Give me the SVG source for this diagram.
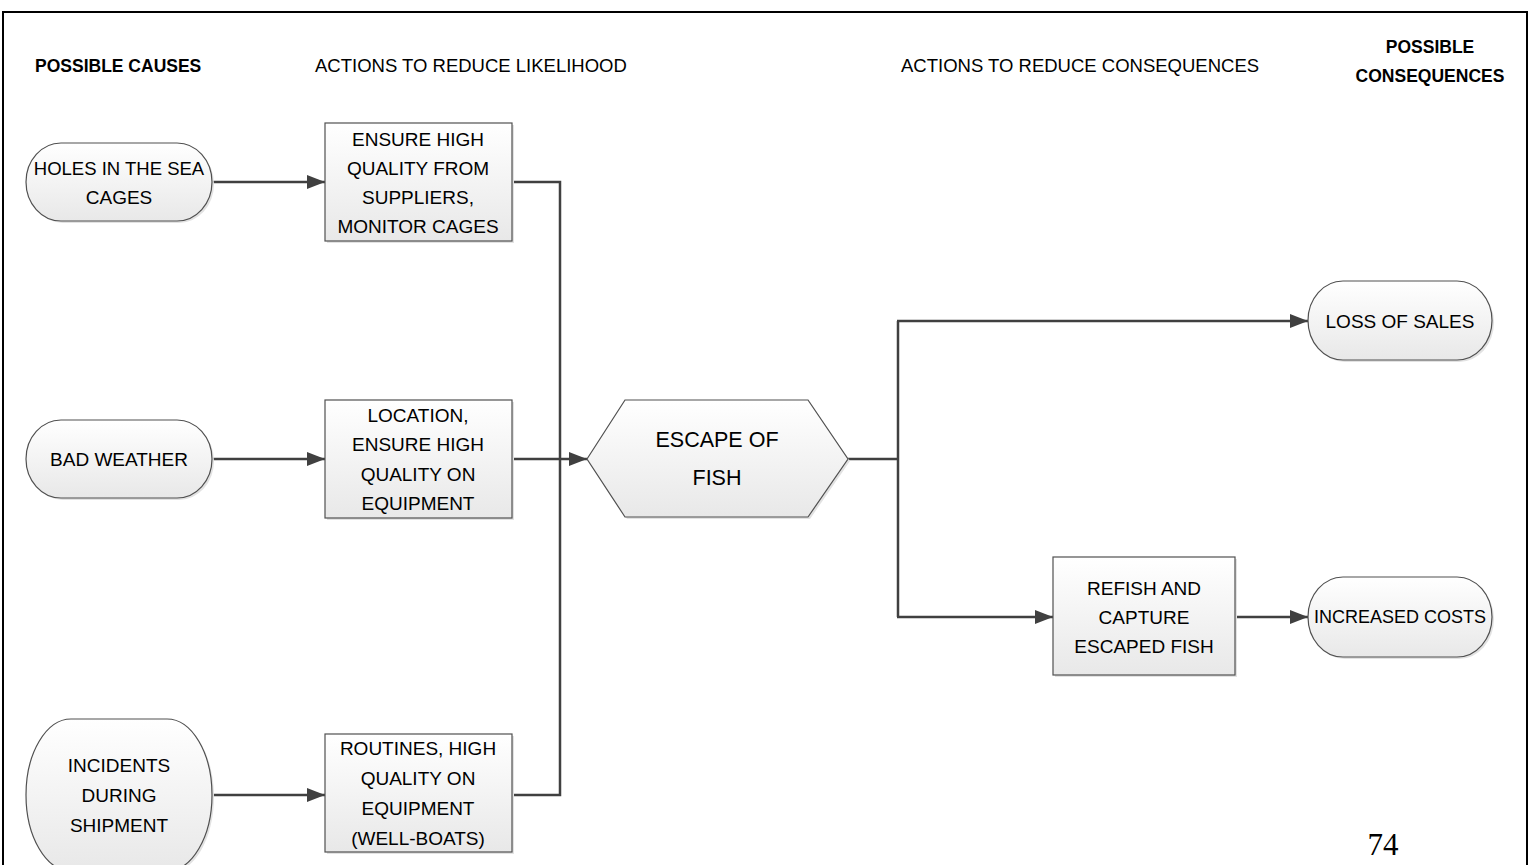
<svg xmlns="http://www.w3.org/2000/svg" width="1533" height="865" viewBox="0 0 1533 865">
<style>
  .t { font-family: "Liberation Sans", Arial, sans-serif; font-size: 19px; fill: #000; text-anchor: middle; }
  .h { font-family: "Liberation Sans", Arial, sans-serif; font-size: 18.5px; fill: #000; }
  .hb { font-family: "Liberation Sans", Arial, sans-serif; font-size: 17.5px; font-weight: bold; fill: #000; }
  .big { font-family: "Liberation Sans", Arial, sans-serif; font-size: 21.5px; fill: #000; text-anchor: middle; }
  .shape { fill: url(#g); stroke: #505050; stroke-width: 1.2; }
  .shadow { fill: #e2e2e2; }
  .conn { fill: none; stroke: #404040; stroke-width: 2.5; }
  .arr { marker-end: url(#ah); }
</style>
<defs>
  <linearGradient id="g" x1="0" y1="0" x2="0" y2="1">
    <stop offset="0" stop-color="#ffffff"/>
    <stop offset="1" stop-color="#e8e8e8"/>
  </linearGradient>
  <marker id="ah" markerUnits="userSpaceOnUse" markerWidth="18" markerHeight="16" refX="18" refY="8" orient="auto">
    <path d="M0,1 L18,8 L0,15 z" fill="#404040"/>
  </marker>
</defs>
<rect x="0" y="0" width="1533" height="865" fill="#fff"/>
<path d="M3,880 V12 H1527 V880" fill="none" stroke="#000" stroke-width="2"/>

<g id="headers">
  <text class="hb" x="35" y="72">POSSIBLE CAUSES</text>
  <text class="h" x="315" y="72">ACTIONS TO REDUCE LIKELIHOOD</text>
  <text class="h" x="901" y="72">ACTIONS TO REDUCE CONSEQUENCES</text>
  <text class="hb" x="1430" y="53" text-anchor="middle">POSSIBLE</text>
  <text class="hb" x="1430" y="82" text-anchor="middle">CONSEQUENCES</text>
</g>

<g id="connectors">
  <line class="conn arr" x1="212" y1="182" x2="325" y2="182"/>
  <line class="conn arr" x1="212" y1="459" x2="325" y2="459"/>
  <line class="conn arr" x1="212" y1="795" x2="325" y2="795"/>
  <polyline class="conn" points="512,182 560,182 560,795 512,795"/>
  <line class="conn arr" x1="512" y1="459" x2="587" y2="459"/>
  <line class="conn" x1="848" y1="459" x2="898" y2="459"/>
  <line class="conn" x1="898" y1="321" x2="898" y2="617"/>
  <line class="conn arr" x1="897" y1="321" x2="1308" y2="321"/>
  <line class="conn arr" x1="897" y1="617" x2="1053" y2="617"/>
  <line class="conn arr" x1="1235" y1="617" x2="1308" y2="617"/>
</g>

<g id="holes">
  <rect class="shadow" x="28" y="145" width="186" height="78" rx="35" ry="39"/>
  <rect class="shape" x="26" y="143" width="186" height="78" rx="35" ry="39"/>
  <text class="t" x="119" y="175" style="font-size:18.5px">HOLES IN THE SEA</text>
  <text class="t" x="119" y="204">CAGES</text>
</g>

<g id="bad-weather">
  <rect class="shadow" x="28" y="422" width="186" height="78" rx="35" ry="39"/>
  <rect class="shape" x="26" y="420" width="186" height="78" rx="35" ry="39"/>
  <text class="t" x="119" y="466">BAD WEATHER</text>
</g>

<g id="incidents">
  <rect class="shadow" x="28" y="721" width="186" height="152" rx="45" ry="76"/>
  <rect class="shape" x="26" y="719" width="186" height="152" rx="45" ry="76"/>
  <text class="t" x="119" y="772">INCIDENTS</text>
  <text class="t" x="119" y="802">DURING</text>
  <text class="t" x="119" y="832">SHIPMENT</text>
</g>

<g id="action-1">
  <rect class="shadow" x="327" y="125" width="187" height="118"/>
  <rect class="shape" x="325" y="123" width="187" height="118"/>
  <text class="t" x="418" y="146">ENSURE HIGH</text>
  <text class="t" x="418" y="175">QUALITY FROM</text>
  <text class="t" x="418" y="204">SUPPLIERS,</text>
  <text class="t" x="418" y="233">MONITOR CAGES</text>
</g>

<g id="action-2">
  <rect class="shadow" x="327" y="402" width="187" height="118"/>
  <rect class="shape" x="325" y="400" width="187" height="118"/>
  <text class="t" x="418" y="422">LOCATION,</text>
  <text class="t" x="418" y="451">ENSURE HIGH</text>
  <text class="t" x="418" y="481">QUALITY ON</text>
  <text class="t" x="418" y="510">EQUIPMENT</text>
</g>

<g id="action-3">
  <rect class="shadow" x="327" y="736" width="187" height="118"/>
  <rect class="shape" x="325" y="734" width="187" height="118"/>
  <text class="t" x="418" y="755">ROUTINES, HIGH</text>
  <text class="t" x="418" y="785">QUALITY ON</text>
  <text class="t" x="418" y="815">EQUIPMENT</text>
  <text class="t" x="418" y="845">(WELL-BOATS)</text>
</g>

<g id="escape">
  <polygon class="shadow" points="589,461 627,402 810,402 850,461 810,519 627,519"/>
  <polygon class="shape" points="587,459 625,400 808,400 848,459 808,517 625,517"/>
  <text class="big" x="717" y="447">ESCAPE OF</text>
  <text class="big" x="717" y="485">FISH</text>
</g>

<g id="loss-of-sales">
  <rect class="shadow" x="1310" y="283" width="184" height="79" rx="35" ry="39.5"/>
  <rect class="shape" x="1308" y="281" width="184" height="79" rx="35" ry="39.5"/>
  <text class="t" x="1400" y="328">LOSS OF SALES</text>
</g>

<g id="refish">
  <rect class="shadow" x="1055" y="559" width="182" height="118"/>
  <rect class="shape" x="1053" y="557" width="182" height="118"/>
  <text class="t" x="1144" y="595">REFISH AND</text>
  <text class="t" x="1144" y="624">CAPTURE</text>
  <text class="t" x="1144" y="653">ESCAPED FISH</text>
</g>

<g id="increased-costs">
  <rect class="shadow" x="1310" y="579" width="184" height="80" rx="35" ry="40"/>
  <rect class="shape" x="1308" y="577" width="184" height="80" rx="35" ry="40"/>
  <text class="t" x="1400" y="623" style="font-size:18px">INCREASED COSTS</text>
</g>

<text x="1383" y="855" text-anchor="middle" style="font-family:'Liberation Serif','Times New Roman',serif;font-size:31px;fill:#000">74</text>
</svg>
